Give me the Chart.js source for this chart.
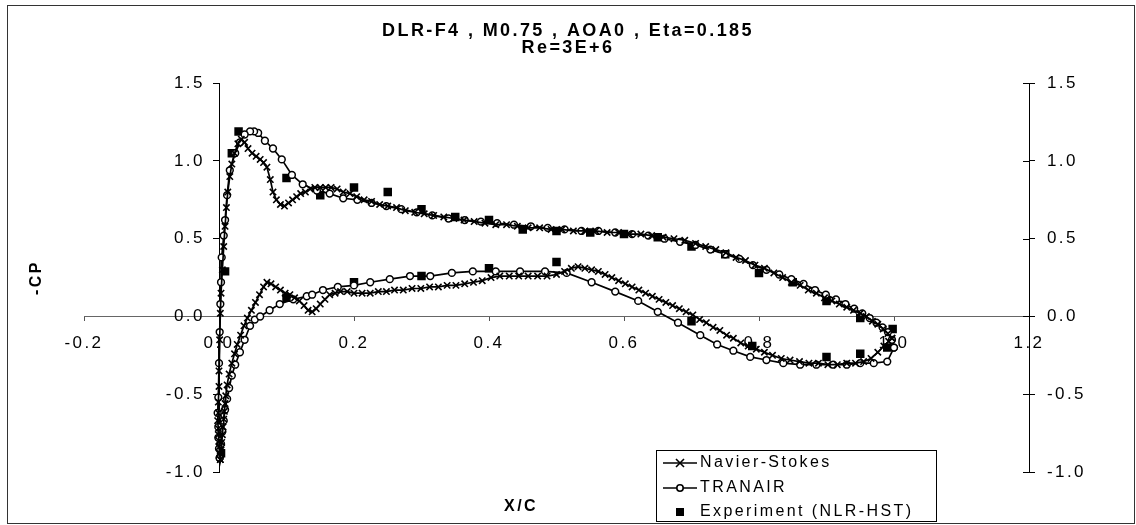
<!DOCTYPE html>
<html>
<head>
<meta charset="utf-8">
<title>DLR-F4 Cp</title>
<script src="https://cdn.jsdelivr.net/npm/chart.js@4.4.1/dist/chart.umd.min.js"></script>
<style>
  html, body { margin: 0; padding: 0; background: #fff; }
  #wrap { width: 1136px; height: 525px; }
</style>
</head>
<body>
<div id="wrap"><canvas id="cpChart" width="1136" height="525"></canvas></div>
<script>
// ---------- data ----------
const titleLines = ["DLR-F4 , M0.75 , AOA0 , Eta=0.185", "Re=3E+6"];
const xTicks = [-0.2, 0.0, 0.2, 0.4, 0.6, 0.8, 1.0, 1.2];
const yTicks = [-1.0, -0.5, 0.0, 0.5, 1.0, 1.5];

// Navier-Stokes, upper surface (LE -> TE)
const nsUpperX = [0.002, 0.001, 0.000, 0.000, -0.001, -0.001, -0.002, -0.001, -0.001, 0.000, 0.000, 0.001, 0.002, 0.003, 0.005, 0.007, 0.009, 0.011, 0.013, 0.016, 0.019, 0.023, 0.028, 0.033, 0.038, 0.043, 0.049, 0.055, 0.061, 0.066, 0.071, 0.076, 0.080, 0.085, 0.091, 0.097, 0.103, 0.109, 0.115, 0.121, 0.128, 0.135, 0.142, 0.150, 0.158, 0.166, 0.175, 0.184, 0.194, 0.204, 0.215, 0.226, 0.238, 0.250, 0.263, 0.276, 0.290, 0.304, 0.318, 0.333, 0.348, 0.363, 0.378, 0.394, 0.410, 0.426, 0.442, 0.458, 0.475, 0.492, 0.508, 0.525, 0.542, 0.558, 0.575, 0.592, 0.608, 0.625, 0.641, 0.658, 0.674, 0.690, 0.706, 0.721, 0.736, 0.751, 0.766, 0.780, 0.794, 0.808, 0.822, 0.835, 0.848, 0.861, 0.873, 0.885, 0.897, 0.908, 0.919, 0.930, 0.940, 0.950, 0.959, 0.968, 0.976, 0.984, 0.991, 0.997];
const nsUpperCp = [-0.92, -0.88, -0.84, -0.80, -0.76, -0.72, -0.67, -0.62, -0.55, -0.45, -0.35, -0.15, 0.02, 0.15, 0.30, 0.45, 0.58, 0.70, 0.80, 0.90, 0.98, 1.05, 1.11, 1.14, 1.12, 1.08, 1.05, 1.03, 1.01, 0.99, 0.96, 0.88, 0.80, 0.75, 0.72, 0.71, 0.73, 0.75, 0.77, 0.79, 0.80, 0.82, 0.83, 0.83, 0.83, 0.83, 0.82, 0.80, 0.79, 0.77, 0.75, 0.74, 0.72, 0.71, 0.70, 0.68, 0.67, 0.66, 0.65, 0.64, 0.63, 0.62, 0.61, 0.60, 0.59, 0.59, 0.58, 0.57, 0.57, 0.56, 0.56, 0.55, 0.55, 0.55, 0.54, 0.54, 0.53, 0.53, 0.52, 0.51, 0.50, 0.49, 0.47, 0.45, 0.43, 0.41, 0.38, 0.36, 0.33, 0.31, 0.28, 0.25, 0.22, 0.20, 0.17, 0.15, 0.12, 0.10, 0.08, 0.06, 0.04, 0.02, 0.00, -0.03, -0.05, -0.08, -0.11, -0.14];

// Navier-Stokes, lower surface (LE -> TE)
const nsLowerX = [0.002, 0.003, 0.004, 0.005, 0.006, 0.007, 0.008, 0.009, 0.010, 0.012, 0.015, 0.019, 0.023, 0.027, 0.032, 0.037, 0.042, 0.048, 0.054, 0.060, 0.066, 0.071, 0.077, 0.084, 0.091, 0.098, 0.105, 0.112, 0.119, 0.126, 0.132, 0.138, 0.144, 0.150, 0.157, 0.164, 0.172, 0.180, 0.190, 0.200, 0.212, 0.224, 0.236, 0.248, 0.260, 0.273, 0.286, 0.299, 0.312, 0.325, 0.338, 0.351, 0.364, 0.377, 0.390, 0.403, 0.416, 0.430, 0.444, 0.458, 0.472, 0.486, 0.500, 0.512, 0.522, 0.532, 0.542, 0.552, 0.562, 0.572, 0.582, 0.592, 0.602, 0.612, 0.622, 0.632, 0.642, 0.652, 0.662, 0.672, 0.682, 0.692, 0.702, 0.712, 0.722, 0.732, 0.742, 0.752, 0.762, 0.773, 0.784, 0.796, 0.808, 0.820, 0.833, 0.846, 0.860, 0.874, 0.888, 0.902, 0.916, 0.930, 0.943, 0.955, 0.966, 0.976, 0.985, 0.992, 0.997];
const nsLowerCp = [-0.92, -0.86, -0.81, -0.76, -0.71, -0.66, -0.61, -0.56, -0.51, -0.44, -0.37, -0.30, -0.24, -0.18, -0.12, -0.06, -0.01, 0.04, 0.09, 0.14, 0.19, 0.22, 0.21, 0.19, 0.17, 0.15, 0.14, 0.12, 0.10, 0.07, 0.04, 0.03, 0.05, 0.08, 0.11, 0.14, 0.15, 0.16, 0.16, 0.15, 0.15, 0.15, 0.16, 0.16, 0.17, 0.17, 0.18, 0.18, 0.19, 0.19, 0.20, 0.20, 0.21, 0.22, 0.23, 0.25, 0.26, 0.26, 0.26, 0.26, 0.26, 0.26, 0.27, 0.29, 0.31, 0.32, 0.31, 0.30, 0.29, 0.27, 0.25, 0.23, 0.21, 0.19, 0.17, 0.15, 0.13, 0.11, 0.09, 0.07, 0.05, 0.03, 0.01, -0.02, -0.04, -0.07, -0.09, -0.12, -0.14, -0.17, -0.19, -0.21, -0.23, -0.25, -0.27, -0.28, -0.29, -0.30, -0.30, -0.31, -0.31, -0.30, -0.30, -0.29, -0.27, -0.23, -0.19, -0.16, -0.14];

// TRANAIR, upper surface (LE -> TE)
const trUpperX = [0.001, 0.000, -0.001, -0.001, -0.002, -0.001, 0.000, 0.001, 0.002, 0.003, 0.004, 0.007, 0.009, 0.012, 0.016, 0.024, 0.031, 0.038, 0.046, 0.052, 0.058, 0.068, 0.080, 0.093, 0.108, 0.124, 0.145, 0.164, 0.184, 0.205, 0.226, 0.248, 0.270, 0.293, 0.316, 0.340, 0.364, 0.388, 0.412, 0.437, 0.462, 0.487, 0.512, 0.537, 0.562, 0.587, 0.612, 0.636, 0.660, 0.683, 0.706, 0.728, 0.750, 0.771, 0.791, 0.811, 0.830, 0.848, 0.866, 0.883, 0.899, 0.914, 0.928, 0.941, 0.953, 0.964, 0.974, 0.983, 0.991, 0.997, 1.000];
const trUpperCp = [-0.91, -0.85, -0.78, -0.71, -0.62, -0.52, -0.30, -0.10, 0.08, 0.22, 0.38, 0.52, 0.62, 0.78, 0.94, 1.05, 1.12, 1.17, 1.19, 1.19, 1.18, 1.13, 1.08, 1.01, 0.91, 0.85, 0.81, 0.79, 0.76, 0.75, 0.73, 0.71, 0.69, 0.67, 0.65, 0.63, 0.62, 0.61, 0.60, 0.59, 0.58, 0.57, 0.56, 0.55, 0.55, 0.54, 0.53, 0.52, 0.50, 0.48, 0.46, 0.43, 0.40, 0.37, 0.33, 0.30, 0.27, 0.24, 0.21, 0.17, 0.14, 0.11, 0.08, 0.05, 0.02, -0.01, -0.04, -0.07, -0.10, -0.15, -0.20];

// TRANAIR, lower surface (LE -> TE)
const trLowerX = [0.001, 0.003, 0.005, 0.007, 0.009, 0.012, 0.015, 0.019, 0.024, 0.031, 0.038, 0.046, 0.053, 0.061, 0.075, 0.090, 0.110, 0.130, 0.138, 0.154, 0.176, 0.200, 0.224, 0.253, 0.283, 0.313, 0.345, 0.376, 0.410, 0.446, 0.483, 0.515, 0.552, 0.587, 0.621, 0.650, 0.680, 0.713, 0.738, 0.762, 0.787, 0.811, 0.836, 0.861, 0.885, 0.910, 0.930, 0.950, 0.970, 0.990, 1.000];
const trLowerCp = [-0.91, -0.82, -0.74, -0.67, -0.60, -0.53, -0.46, -0.38, -0.31, -0.23, -0.15, -0.06, -0.02, 0.00, 0.04, 0.08, 0.11, 0.13, 0.14, 0.17, 0.19, 0.20, 0.22, 0.24, 0.26, 0.26, 0.28, 0.29, 0.29, 0.29, 0.29, 0.28, 0.22, 0.16, 0.10, 0.03, -0.04, -0.12, -0.18, -0.22, -0.26, -0.28, -0.30, -0.31, -0.31, -0.31, -0.31, -0.30, -0.30, -0.29, -0.20];

// Experiment (NLR-HST)
const expX = [0.003, 0.009, 0.019, 0.029, 0.100, 0.150, 0.200, 0.250, 0.300, 0.350, 0.400, 0.450, 0.500, 0.550, 0.600, 0.650, 0.700, 0.750, 0.800, 0.850, 0.900, 0.950, 0.998, 0.100, 0.200, 0.300, 0.400, 0.500, 0.700, 0.790, 0.900, 0.950, 0.990];
const expCp = [-0.88, 0.29, 1.05, 1.19, 0.89, 0.78, 0.83, 0.80, 0.69, 0.64, 0.62, 0.56, 0.55, 0.54, 0.53, 0.51, 0.45, 0.40, 0.28, 0.22, 0.10, -0.01, -0.08, 0.12, 0.22, 0.26, 0.31, 0.35, -0.03, -0.19, -0.26, -0.24, -0.20];

// ---------- helpers ----------
const FONT = "'Liberation Sans', Arial, sans-serif";

// upper surface walked back from TE to LE, then lower surface LE -> TE: one closed curve
function loop(upX, upCp, loX, loCp) {
  const pts = [];
  for (let i = upX.length - 1; i >= 0; i--) pts.push({ x: upX[i], y: upCp[i] });
  for (let i = 0; i < loX.length; i++) pts.push({ x: loX[i], y: loCp[i] });
  return pts;
}
const expPts = expX.map((x, i) => ({ x, y: expCp[i] }));
const setTicks = (vals) => (scale) => { scale.ticks = vals.map(v => ({ value: v })); };
const fmt = (v) => Number(v).toFixed(1);

// ---------- plugins ----------
const spacingPlugin = {
  id: "spacing",
  beforeDraw(chart) { chart.ctx.letterSpacing = "2.4px"; }
};

const decorPlugin = {
  id: "decor",
  afterDraw(chart) {
    const ctx = chart.ctx;
    ctx.save();
    // outer frame
    ctx.strokeStyle = "#333";
    ctx.lineWidth = 1;
    ctx.strokeRect(7.5, 5.5, 1127, 518);

    // cross ticks on the right-hand axis (inner half)
    const r = chart.scales.y2;
    ctx.strokeStyle = "#000";
    yTicks.forEach(v => {
      const py = Math.round(r.getPixelForValue(v)) + 0.5;
      ctx.beginPath(); ctx.moveTo(r.left - 6, py); ctx.lineTo(r.left, py); ctx.stroke();
    });

    // x axis title
    ctx.fillStyle = "#000";
    ctx.font = "bold 16px " + FONT;
    ctx.textAlign = "center";
    ctx.textBaseline = "middle";
    ctx.fillText("X/C", 521, 507);

    // legend box
    ctx.fillStyle = "#fff";
    ctx.fillRect(656.5, 450.5, 280, 71);
    ctx.strokeStyle = "#000";
    ctx.strokeRect(656.5, 450.5, 280, 71);

    const rows = [
      { y: 463, text: "Navier-Stokes", kind: "x" },
      { y: 488, text: "TRANAIR", kind: "o" },
      { y: 512, text: "Experiment (NLR-HST)", kind: "sq" }
    ];
    rows.forEach(row => {
      const mx = 680;
      ctx.strokeStyle = "#000";
      ctx.lineWidth = 1.6;
      if (row.kind !== "sq") {
        ctx.beginPath(); ctx.moveTo(663, row.y); ctx.lineTo(697, row.y); ctx.stroke();
      }
      if (row.kind === "x") {
        ctx.beginPath();
        ctx.moveTo(mx - 4, row.y - 4); ctx.lineTo(mx + 4, row.y + 4);
        ctx.moveTo(mx - 4, row.y + 4); ctx.lineTo(mx + 4, row.y - 4);
        ctx.stroke();
      } else if (row.kind === "o") {
        ctx.beginPath(); ctx.arc(mx, row.y, 3.2, 0, Math.PI * 2);
        ctx.fillStyle = "#fff"; ctx.fill(); ctx.stroke();
      } else {
        ctx.fillStyle = "#000"; ctx.fillRect(mx - 4, row.y - 4, 8, 8);
      }
      ctx.fillStyle = "#000";
      ctx.font = "16px " + FONT;
      ctx.textAlign = "left";
      ctx.fillText(row.text, 700, row.y);
    });
    ctx.restore();
  }
};

// ---------- chart ----------
const tickFont = { family: FONT, size: 17 };

new Chart(document.getElementById("cpChart"), {
  type: "scatter",
  data: {
    datasets: [
      {
        label: "Navier-Stokes",
        data: loop(nsUpperX, nsUpperCp, nsLowerX, nsLowerCp),
        showLine: true,
        borderColor: "#000",
        borderWidth: 1.7,
        pointStyle: "crossRot",
        pointRadius: 4.5,
        pointBorderWidth: 1.6,
        pointBorderColor: "#000",
        pointBackgroundColor: "#000"
      },
      {
        label: "TRANAIR",
        data: loop(trUpperX, trUpperCp, trLowerX, trLowerCp),
        showLine: true,
        borderColor: "#000",
        borderWidth: 1.7,
        pointStyle: "circle",
        pointRadius: 3.4,
        pointBorderWidth: 1.5,
        pointBorderColor: "#000",
        pointBackgroundColor: "#fff"
      },
      {
        label: "Experiment (NLR-HST)",
        data: expPts,
        showLine: false,
        pointStyle: "rect",
        pointRadius: 6,
        pointBorderWidth: 0,
        pointBackgroundColor: "#000",
        pointBorderColor: "#000"
      }
    ]
  },
  options: {
    responsive: false,
    animation: false,
    devicePixelRatio: 1,
    layout: { padding: { left: 0, right: 0, top: 0, bottom: 53 } },
    plugins: {
      legend: { display: false },
      tooltip: { enabled: false },
      title: {
        display: true,
        text: titleLines,
        color: "#000",
        font: { family: FONT, size: 18, weight: "bold", lineHeight: 0.95 },
        padding: { top: 22.5, bottom: 26.5 }
      }
    },
    scales: {
      x: {
        type: "linear",
        min: -0.2,
        max: 1.2,
        position: { y: 0 },
        afterBuildTicks: setTicks(xTicks),
        afterFit: (s) => { s.height = 0; },
        grid: { display: true, drawOnChartArea: false, drawTicks: true, tickLength: 4, color: "#555" },
        border: { display: true, color: "#666", width: 1 },
        ticks: { autoSkip: false, maxRotation: 0, padding: 13, color: "#000", font: tickFont, callback: fmt }
      },
      y: {
        type: "linear",
        min: -1,
        max: 1.5,
        position: { x: 0 },
        afterBuildTicks: setTicks(yTicks),
        afterFit: (s) => { s.width = 0; },
        grid: { display: true, drawOnChartArea: false, drawTicks: true, tickLength: 6, color: "#000" },
        border: { display: true, color: "#000", width: 1 },
        // centre-positioned axis: labels sit on the axis line, so pad them with spaces
        ticks: { autoSkip: false, padding: 10, color: "#000", font: tickFont, callback: (v) => fmt(v) + "  " }
      },
      y2: {
        type: "linear",
        min: -1,
        max: 1.5,
        position: "right",
        afterBuildTicks: setTicks(yTicks),
        afterFit: (s) => { s.width = 107; },
        grid: { display: true, drawOnChartArea: false, drawTicks: true, tickLength: 6, color: "#000" },
        border: { display: true, color: "#000", width: 1 },
        ticks: { autoSkip: false, padding: 12, color: "#000", font: tickFont, callback: fmt }
      },
      yTitle: {
        type: "linear",
        position: "left",
        afterFit: (s) => { s.width = 84; },
        grid: { display: false },
        border: { display: false },
        ticks: { display: false },
        title: {
          display: true,
          text: "-CP",
          color: "#000",
          font: { family: FONT, size: 16, weight: "bold", lineHeight: 1.2 },
          padding: { top: 27, bottom: 0 }
        }
      }
    }
  },
  plugins: [spacingPlugin, decorPlugin]
});
</script>
</body>
</html>
